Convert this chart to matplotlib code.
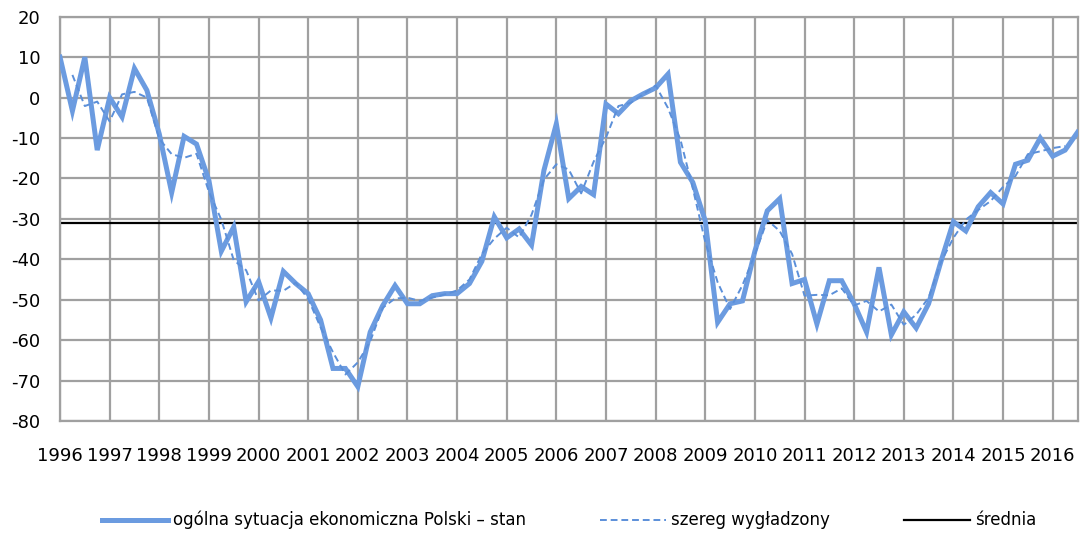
import numpy as np
import matplotlib
matplotlib.use("Agg")
import matplotlib.pyplot as plt

plt.rcParams['axes.unicode_minus'] = False

# kwartalnie 1996Q1 - 2016Q3
stan = [10, -3.3, 10, -13,
        0, -4.8, 7.2, 1.8,
        -9, -23.5, -9.6, -11.5,
        -20.5, -38, -32, -50.5,
        -45.5, -54.5, -43, -46,
        -48.5, -55, -67, -67,
        -71.5, -58, -51.5, -46.5,
        -51, -51, -49, -48.5,
        -48.5, -46, -40.5, -29.5,
        -34.7, -32.5, -36.5, -18,
        -6.5, -25, -22, -24,
        -1.6, -4, -0.8, 0.9,
        2.4, 5.8, -16, -21,
        -30.5, -55.6, -51, -50.3,
        -38, -28, -25, -46,
        -45, -56, -45.3, -45.3,
        -51, -58, -42, -58.7,
        -53, -57, -51, -40.5,
        -30.7, -33, -27, -23.5,
        -26.3, -16.5, -15.5, -10,
        -14.5, -13, -8.6]

# szereg wygladzony 1996Q2 - 2016Q2
wygl = [5.6, -2.1, -1.0,
        -5.9, 0.8, 1.4, 0.0,
        -10.2, -14.0, -14.9, -13.9,
        -23.3, -30.2, -40.2, -42.7,
        -50.2, -47.7, -47.8, -45.8,
        -49.8, -56.8, -63.0, -68.5,
        -65.5, -60.3, -52.0, -49.7,
        -49.5, -50.3, -49.5, -48.7,
        -47.7, -45.0, -38.7, -34.9,
        -32.2, -34.6, -29.0, -20.3,
        -16.5, -17.8, -23.7, -15.9,
        -9.9, -2.1, -1.3, 0.8,
        3.0, -2.6, -10.4, -22.5,
        -35.7, -45.7, -52.3, -46.4,
        -38.8, -30.3, -33.0, -38.7,
        -49.0, -48.8, -48.9, -47.2,
        -51.4, -50.3, -52.9, -51.2,
        -56.2, -53.7, -49.5, -40.7,
        -34.7, -30.2, -27.8, -25.6,
        -22.1, -19.4, -14.0, -13.3,
        -12.5, -12.0]

srednia = -31.0
lata = [str(r) for r in range(1996, 2017)]

x1 = np.arange(len(stan))
x2 = np.arange(1, len(wygl) + 1)

fig = plt.figure(figsize=(10.8, 5.34), dpi=100)
ax = fig.add_axes([60 / 1080, 1 - 421 / 534, 1017.5 / 1080, (421 - 16.7) / 534])

niebieski = '#6b9be0'
ax.plot(x1, stan, color=niebieski, lw=3.6, solid_joinstyle='miter',
        label='ogólna sytuacja ekonomiczna Polski – stan', zorder=3)
ax.plot(x2, wygl, color='#5b8fd9', lw=1.4, linestyle=(0, (3.5, 2)),
        label='szereg wygładzony', zorder=4)
ax.axhline(srednia, color='black', lw=1.6, label='średnia', zorder=2)

ax.set_xlim(0, len(stan) - 1)
ax.set_ylim(-80, 20)
ax.set_xticks(np.arange(0, len(stan), 4))
ax.set_xticklabels(lata)
ax.set_yticks(np.arange(-80, 21, 10))

ax.grid(True, color='#a0a0a0', lw=1.6, zorder=1)
ax.set_axisbelow(True)
for s in ax.spines.values():
    s.set_color('#a0a0a0')
    s.set_linewidth(1.6)

ax.tick_params(axis='both', length=0, labelsize=13, colors='black')
ax.tick_params(axis='y', pad=14)
ax.tick_params(axis='x', pad=19)

fig.legend(loc='center', bbox_to_anchor=(0.527, 0.026), ncol=3, frameon=False,
           fontsize=12, handlelength=4.0, handletextpad=0.3, columnspacing=4.4)

fig.savefig('out.png', dpi=100)
